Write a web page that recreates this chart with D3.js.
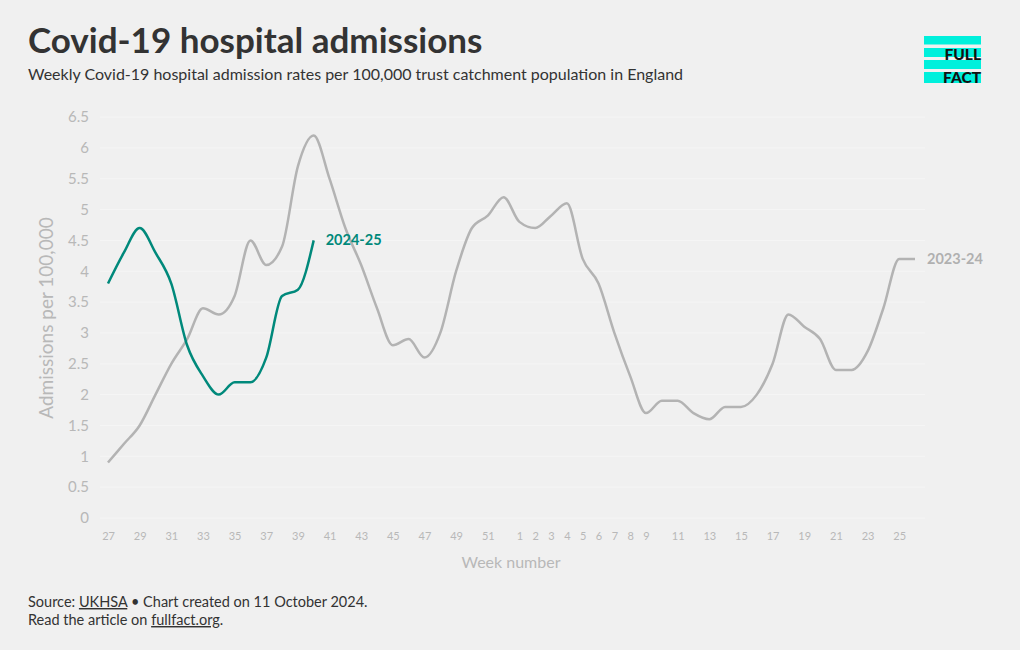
<!DOCTYPE html>
<html>
<head>
<meta charset="utf-8">
<script src="https://cdn.jsdelivr.net/npm/d3@7"></script>
<style>
  html, body { margin: 0; padding: 0; background: #f0f0f0; }
  svg { display: block; font-family: Lato, "Open Sans", sans-serif; }
</style>
</head>
<body>
<svg id="chart" width="1020" height="650"></svg>
<script>
// Week categories (season runs from week 27 to week 26)
const weeks = [27,28,29,30,31,32,33,34,35,36,37,38,39,40,41,42,43,44,45,46,47,48,49,50,51,52,
               1,2,3,4,5,6,7,8,9,10,11,12,13,14,15,16,17,18,19,20,21,22,23,24,25,26];
const tickWeeks = [27,29,31,33,35,37,39,41,43,45,47,49,51,1,2,3,4,5,6,7,8,9,11,13,15,17,19,21,23,25];
const yTicks = [0,0.5,1,1.5,2,2.5,3,3.5,4,4.5,5,5.5,6,6.5];

const series2023 = [0.9,1.2,1.5,2.0,2.5,2.9,3.4,3.3,3.6,4.5,4.1,4.4,5.7,6.2,5.5,4.7,4.1,3.4,2.8,2.9,2.6,3.0,4.0,4.7,4.9,5.2,
                    4.8,4.7,4.9,5.1,4.2,3.8,3.0,2.3,1.7,1.9,1.9,1.7,1.6,1.8,1.8,2.0,2.5,3.3,3.1,2.9,2.4,2.4,2.7,3.4,4.2,4.2];
const series2024 = [3.8,4.3,4.7,4.3,3.8,2.8,2.3,2.0,2.2,2.2,2.6,3.6,3.7,4.5];

const svg = d3.select("#chart");
const W = 1020, H = 650;
svg.append("rect").attr("width", W).attr("height", H).attr("fill", "#f0f0f0");

const x = d3.scalePoint().domain(weeks).range([108, 915]);
const y = d3.scaleLinear().domain([0, 6.5]).range([518, 117]);

// Title and subtitle
svg.append("text").attr("x", 28).attr("y", 53)
  .attr("font-size", 35).attr("font-weight", 700).attr("fill", "#333")
  .text("Covid-19 hospital admissions");
svg.append("text").attr("x", 28).attr("y", 80)
  .attr("font-size", 16).attr("fill", "#333")
  .text("Weekly Covid-19 hospital admission rates per 100,000 trust catchment population in England");

// Logo
const logo = svg.append("g");
[[36,8.5],[48,9],[60,9],[72,11]].forEach(([yy,h]) => {
  logo.append("rect").attr("x", 924).attr("y", yy).attr("width", 57).attr("height", h).attr("fill", "#00f0dc");
});
logo.append("text").attr("x", 981).attr("y", 59.5).attr("text-anchor", "end")
  .attr("font-size", 15.5).attr("font-weight", 900).attr("fill", "#111").text("FULL");
logo.append("text").attr("x", 981).attr("y", 83).attr("text-anchor", "end")
  .attr("font-size", 15.5).attr("font-weight", 900).attr("fill", "#111").text("FACT");

// Gridlines
svg.append("g").selectAll("line").data(yTicks).join("line")
  .attr("x1", 100).attr("x2", 925)
  .attr("y1", d => y(d)).attr("y2", d => y(d))
  .attr("stroke", "#f5f5f5").attr("stroke-width", 1);

// Y axis
const yAxis = svg.append("g").attr("transform", "translate(95,0)")
  .call(d3.axisLeft(y).tickValues(yTicks).tickSize(0).tickPadding(6).tickFormat(d3.format("")));
yAxis.select(".domain").remove();
yAxis.selectAll("text").attr("font-size", 15).attr("fill", "#b8b8b8")
  .attr("font-family", "Lato, sans-serif");

// X axis
const xAxis = svg.append("g").attr("transform", "translate(0,526)")
  .call(d3.axisBottom(x).tickValues(tickWeeks).tickSize(0).tickPadding(6));
xAxis.select(".domain").remove();
xAxis.selectAll("text").attr("font-size", 11).attr("fill", "#b8b8b8")
  .attr("font-family", "Lato, sans-serif");

// Axis titles
svg.append("text").attr("x", 511).attr("y", 568).attr("text-anchor", "middle")
  .attr("font-size", 16).attr("fill", "#b8b8b8").text("Week number");
svg.append("text").attr("transform", "translate(53,318) rotate(-90)")
  .attr("text-anchor", "middle").attr("font-size", 19).attr("fill", "#b8b8b8")
  .text("Admissions per 100,000");

// Lines
const line = d3.line()
  .x((d, i) => x(weeks[i]))
  .y(d => y(d))
  .curve(d3.curveMonotoneX);

svg.append("path").datum(series2023).attr("d", line)
  .attr("fill", "none").attr("stroke", "#b3b3b3").attr("stroke-width", 2.5);
svg.append("path").datum(series2024).attr("d", line)
  .attr("fill", "none").attr("stroke", "#00897b").attr("stroke-width", 2.5);

// Line labels
svg.append("text")
  .attr("x", x(weeks[series2024.length - 1]) + 12).attr("y", y(series2024[series2024.length - 1]) + 5)
  .attr("font-size", 14.5).attr("font-weight", 700).attr("fill", "#00897b").text("2024-25");
svg.append("text")
  .attr("x", x(weeks[weeks.length - 1]) + 12).attr("y", y(series2023[series2023.length - 1]) + 5)
  .attr("font-size", 14.5).attr("font-weight", 700).attr("fill", "#b0b0b0").text("2023-24");

// Footer
const f1 = svg.append("text").attr("x", 28).attr("y", 607).attr("font-size", 14.5).attr("fill", "#333");
f1.append("tspan").text("Source: ");
f1.append("tspan").attr("text-decoration", "underline").text("UKHSA");
f1.append("tspan").text(" \u2022 Chart created on 11 October 2024.");
const f2 = svg.append("text").attr("x", 28).attr("y", 625).attr("font-size", 14.5).attr("fill", "#333");
f2.append("tspan").text("Read the article on ");
f2.append("tspan").attr("text-decoration", "underline").text("fullfact.org");
f2.append("tspan").text(".");
</script>
</body>
</html>
